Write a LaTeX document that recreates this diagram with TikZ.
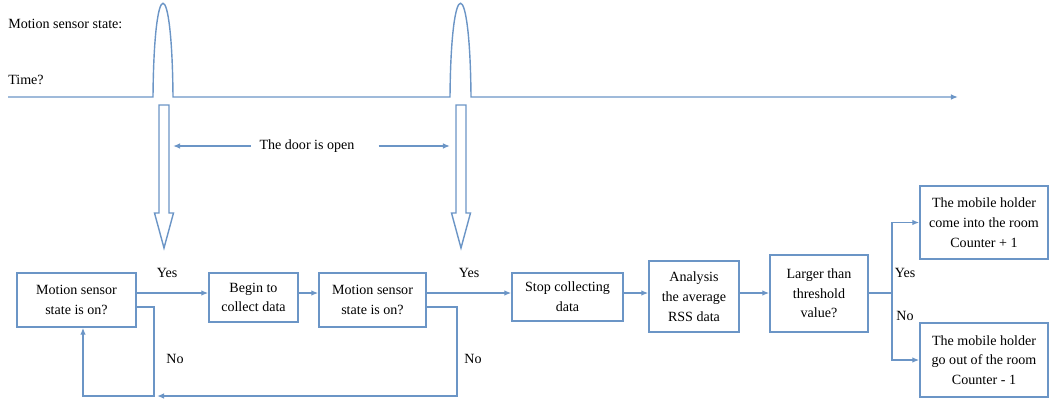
\documentclass[tikz,border=0pt]{standalone}
\usepackage{fontspec}
\setmainfont{Liberation Serif}
\usetikzlibrary{arrows.meta,positioning}
\definecolor{flowblue}{HTML}{6B95C6}

\begin{document}
\begin{tikzpicture}[x=0.025cm,y=-0.025cm]
\tikzset{box/.style={draw=flowblue,line width=1pt,align=center,inner sep=0pt,font=\fontsize{10}{14}\selectfont},
         flow/.style={draw=flowblue,line width=1pt,-{Latex[length=5pt,width=4pt]}},
         wire/.style={draw=flowblue,line width=1pt},
         lbl/.style={font=\fontsize{10}{12}\selectfont,inner sep=0pt}}
\useasboundingbox (0,0) rectangle (1050,402);

\node[lbl,anchor=west] (state) at (8,24) {Motion sensor state:};
\node[lbl,anchor=west] (time) at (8,80) {Time?};
\draw[flow] (8,97) -- (153,97) .. controls (154,-28) and (172,-28) .. (173,97)
   -- (450,97) .. controls (451,-28) and (470,-28) .. (471,97) -- (958,97);
\foreach \x in {164,461}
   \draw[wire,fill=white] ({\x-5},105) -- ({\x+5},105) -- ({\x+5},213) -- ({\x+9.5},213)
      -- (\x,248) -- ({\x-9.5},213) -- ({\x-5},213) -- cycle;

\node[lbl] (door) at (307,146) {The door is open};
\coordinate (openL) at (173,146);
\coordinate (openR) at (450,146);
\draw[flow] ([xshift=-6]door.west) -- (openL);
\draw[flow] ([xshift=17]door.east) -- (openR);

\node[box,minimum width=2.975cm,minimum height=1.35cm] (sense1) at (76.5,300) {Motion sensor\\state is on?};
\node[box,minimum width=2.225cm,minimum height=1.225cm] (begin) at (253.5,297.5) {Begin to\\collect data};
\node[box,minimum width=2.675cm,minimum height=1.35cm] (sense2) at (372.5,300) {Motion sensor\\state is on?};
\node[box,minimum width=2.775cm,minimum height=1.2cm] (stop) at (567.5,297) {Stop collecting\\data};
\node[box,minimum width=2.25cm,minimum height=1.775cm] (rss) at (694,296.5) {Analysis\\the average\\RSS data};
\node[box,minimum width=2.45cm,minimum height=1.925cm] (thresh) at (819,293.5) {Larger than\\threshold\\value?};
\node[box,minimum width=3.2cm,minimum height=1.825cm] (inroom) at (984,222.5) {The mobile holder\\come into the room\\Counter + 1};
\node[box,minimum width=3.2cm,minimum height=1.85cm] (outroom) at (984,360) {The mobile holder\\go out of the room\\Counter - 1};

\coordinate (row) at (0,293);
\coordinate (split) at (892,293);
\draw[flow] (sense1.east |- row) -- (begin.west |- row);
\draw[flow] (begin.east |- row) -- (sense2.west |- row);
\draw[flow] (sense2.east |- row) -- (stop.west |- row);
\draw[flow] (stop.east |- row) -- (rss.west |- row);
\draw[flow] (rss.east |- row) -- (thresh.west |- row);
\draw[wire] (thresh.east |- row) -- (split);
\draw[flow] (split) |- (inroom.west);
\draw[flow] (split) |- (outroom.west);

\draw[flow] (sense1.east |- 0,307) -| (154,396) -| (sense1.south -| 83,0);
\draw[flow] (sense2.east |- 0,307) -| (457,396) -- (157,396);

\node[lbl] (yes1) at (167,273) {Yes};
\node[lbl] (yes2) at (469,273) {Yes};
\node[lbl] (no1) at (175,359) {No};
\node[lbl] (no2) at (473,359) {No};
\node[lbl] (yes3) at (905,273) {Yes};
\node[lbl] (no3) at (905,316) {No};
\end{tikzpicture}
\end{document}
